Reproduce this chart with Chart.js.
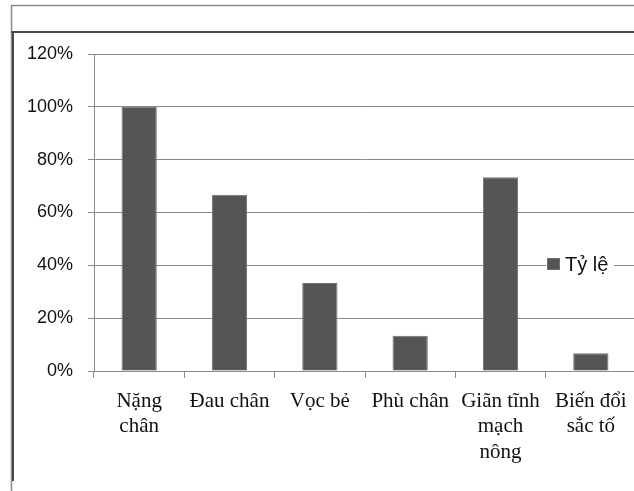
<!DOCTYPE html>
<html>
<head>
<meta charset="utf-8">
<script src="https://cdn.jsdelivr.net/npm/chart.js@4.4.1/dist/chart.umd.min.js"></script>
<style>
html,body{margin:0;padding:0;background:#fff;overflow:hidden;}
#wrap{position:absolute;left:0;top:0;width:680px;height:491px;}
</style>
</head>
<body>
<div id="wrap"><canvas id="c" width="680" height="491"></canvas></div>
<script>
const categories = [['Nặng','chân'], ['Đau chân'], ['Vọc bẻ'], ['Phù chân'], ['Giãn tĩnh','mạch','nông'], ['Biến đổi','sắc tố']];
const seriesName = 'Tỷ lệ';
const values = [100, 66.7, 33.3, 13.3, 73.3, 6.7];
const yTicks = [0, 20, 40, 60, 80, 100, 120];

const framePlugin = {
  id: 'frame',
  beforeDraw(chart) {
    const ctx = chart.ctx;
    ctx.save();
    ctx.strokeStyle = '#8a8a8a';
    ctx.lineWidth = 1.5;
    ctx.beginPath();
    ctx.moveTo(11, 5.5); ctx.lineTo(680, 5.5);
    ctx.moveTo(11.5, 5); ctx.lineTo(11.5, 491);
    ctx.stroke();
    ctx.strokeStyle = '#4a4a4a';
    ctx.lineWidth = 2;
    ctx.beginPath();
    ctx.moveTo(11, 32); ctx.lineTo(680, 32);
    ctx.moveTo(13, 32); ctx.lineTo(13, 481);
    ctx.stroke();
    ctx.restore();
  },
  afterDraw(chart) {
    const ctx = chart.ctx;
    ctx.save();
    ctx.fillStyle = '#fff';
    ctx.fillRect(546, 254, 68, 21);
    ctx.fillStyle = '#555';
    ctx.strokeStyle = '#6e6e6e';
    ctx.lineWidth = 1;
    ctx.fillRect(547.5, 258.5, 12, 11);
    ctx.strokeRect(547.5, 258.5, 12, 11);
    ctx.fillStyle = '#111';
    ctx.font = '20px "Liberation Sans", Arial, sans-serif';
    ctx.textBaseline = 'alphabetic';
    ctx.fillText(seriesName, 565, 271);
    ctx.restore();
  }
};

new Chart(document.getElementById('c'), {
  type: 'bar',
  data: {
    labels: categories,
    datasets: [{
      label: seriesName,
      data: values,
      backgroundColor: '#555555',
      borderColor: '#707070',
      borderWidth: 1,
      barPercentage: 0.78,
      categoryPercentage: 0.5
    }]
  },
  options: {
    responsive: false,
    animation: false,
    devicePixelRatio: 1,
    layout: { padding: { left: 0, right: 44, top: 54, bottom: 0 } },
    plugins: { legend: { display: false }, tooltip: { enabled: false } },
    scales: {
      x: {
        offset: true,
        grid: { display: true, drawOnChartArea: false, drawTicks: true, tickLength: 7, color: '#8a8a8a', offset: true },
        border: { display: true, color: '#8a8a8a', width: 1 },
        ticks: {
          color: '#111',
          font: { family: '"Liberation Serif", "Times New Roman", serif', size: 21, lineHeight: 1.2 },
          padding: 11,
          maxRotation: 0,
          autoSkip: false
        },
        afterFit(scale) { scale.height = 120; }
      },
      y: {
        min: 0, max: 120,
        afterBuildTicks(scale) { scale.ticks = yTicks.map(v => ({ value: v })); },
        grid: { color: '#8a8a8a', lineWidth: 1, tickLength: 6, drawTicks: true },
        border: { display: true, color: '#8a8a8a', width: 1 },
        ticks: {
          color: '#111',
          font: { family: '"Liberation Sans", Arial, sans-serif', size: 18 },
          padding: 15,
          callback: v => v + '%'
        },
        afterFit(scale) { scale.width = 94; }
      }
    }
  },
  plugins: [framePlugin]
});
</script>
</body>
</html>
